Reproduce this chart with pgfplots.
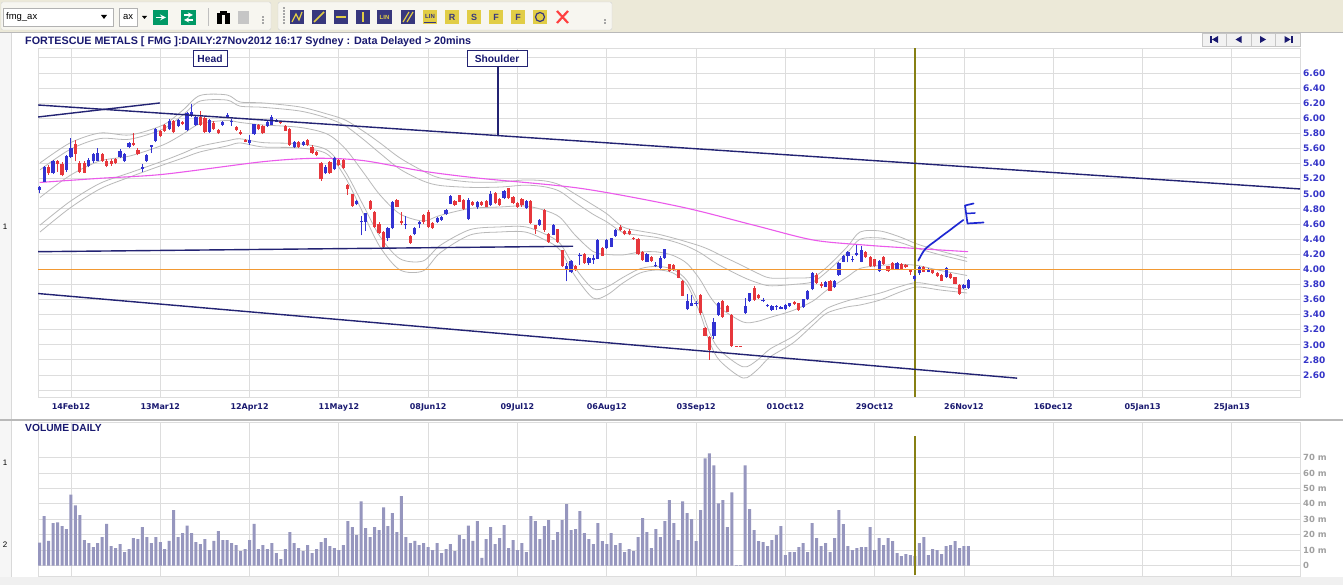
\documentclass[border=0pt]{standalone}
\usepackage{pgfplots}
\pgfplotsset{compat=1.18}
\usepackage{pgfplotstable}
\usepackage{fontspec}
\setmainfont{Liberation Sans}
\newfontfamily\dejav{DejaVu Sans}
\definecolor{tbbg}{RGB}{236,233,216}
\definecolor{tbhi}{RGB}{247,246,240}
\definecolor{navyt}{RGB}{25,25,112}
\definecolor{pblue}{RGB}{52,52,200}
\definecolor{cblue}{RGB}{50,50,210}
\definecolor{cred}{RGB}{230,55,60}
\definecolor{gridc}{RGB}{221,221,221}
\definecolor{bandc}{RGB}{185,185,185}
\definecolor{magc}{RGB}{235,90,235}
\definecolor{hlorange}{rgb}{0.95,0.6,0.2}
\definecolor{olc}{RGB}{135,128,20}
\definecolor{trend}{RGB}{35,35,115}
\definecolor{volc}{RGB}{150,150,190}
\definecolor{vlab}{RGB}{160,160,160}
\definecolor{hand}{RGB}{30,40,210}
\definecolor{iconnavy}{RGB}{55,55,125}
\definecolor{iconyel}{RGB}{225,205,70}

\pgfplotstableread{
i o h l c
0 5.05 5.105 5.015 5.085
1 5.16 5.37 5.15 5.35
3 5.27 5.45 5.26 5.435
6 5.315 5.52 5.29 5.505
7 5.49 5.735 5.47 5.60
11 5.37 5.48 5.35 5.45
12 5.43 5.54 5.41 5.525
13 5.44 5.60 5.43 5.545
18 5.49 5.59 5.47 5.57
19 5.43 5.54 5.42 5.525
20 5.615 5.69 5.60 5.677
23 5.33 5.395 5.285 5.35
24 5.44 5.53 5.42 5.515
25 5.62 5.65 5.54 5.64
26 5.70 5.87 5.68 5.855
29 5.854 5.99 5.84 5.969
31 5.898 5.99 5.88 5.978
33 5.84 6.08 5.83 6.066
34 6.03 6.19 6.02 6.088
35 5.916 6.03 5.90 6.013
38 5.823 5.99 5.81 5.978
41 5.911 5.97 5.90 5.955
42 6.013 6.07 6.00 6.04
43 5.947 5.99 5.90 5.967
47 5.669 5.78 5.65 5.713
48 5.788 5.93 5.78 5.92
51 5.903 5.96 5.89 5.947
52 5.916 6.04 5.91 6.013
53 5.956 5.99 5.95 5.978
57 5.615 5.70 5.60 5.69
59 5.647 5.70 5.63 5.69
64 5.271 5.38 5.26 5.36
66 5.324 5.49 5.31 5.479
71 4.86 4.92 4.85 4.905
72 4.62 4.70 4.45 4.64
73 4.63 4.75 4.51 4.74
78 4.42 4.56 4.38 4.55
79 4.543 4.91 4.53 4.896
82 4.58 4.70 4.53 4.60
84 4.463 4.56 4.45 4.542
85 4.60 4.645 4.55 4.625
89 4.622 4.69 4.61 4.675
90 4.653 4.71 4.64 4.697
91 4.728 4.80 4.72 4.785
92 4.865 4.98 4.86 4.971
96 4.662 4.94 4.65 4.918
98 4.83 4.90 4.80 4.89
101 4.852 5.04 4.84 5.00
104 4.94 5.05 4.93 5.04
109 4.808 4.92 4.80 4.909
112 4.587 4.67 4.57 4.653
115 4.46 4.60 4.45 4.587
118 4.01 4.08 3.84 4.05
119 3.96 4.12 3.95 4.11
121 4.17 4.21 4.06 4.19
123 4.079 4.16 4.06 4.145
124 4.123 4.19 4.07 4.154
125 4.136 4.40 4.13 4.388
127 4.278 4.40 4.27 4.388
128 4.30 4.42 4.29 4.41
129 4.445 4.54 4.43 4.52
136 4.101 4.21 4.09 4.198
138 4.04 4.09 4.03 4.06
139 4.022 4.17 4.01 4.154
140 4.154 4.27 4.14 4.264
145 3.47 3.67 3.46 3.58
146 3.52 3.66 3.51 3.55
147 3.54 3.58 3.51 3.56
151 3.12 3.35 3.08 3.306
152 3.395 3.57 3.38 3.55
158 3.417 3.615 3.41 3.52
159 3.58 3.69 3.57 3.68
162 3.575 3.615 3.565 3.595
163 3.51 3.54 3.50 3.53
164 3.46 3.53 3.45 3.52
165 3.50 3.53 3.46 3.52
166 3.48 3.51 3.47 3.50
167 3.47 3.54 3.46 3.527
168 3.514 3.56 3.50 3.55
171 3.497 3.61 3.49 3.602
172 3.602 3.72 3.59 3.713
173 3.735 3.96 3.72 3.946
176 3.77 3.85 3.76 3.836
178 3.76 3.86 3.75 3.85
179 3.925 4.09 3.91 4.079
180 4.101 4.19 4.09 4.176
181 4.176 4.24 4.09 4.233
182 4.12 4.17 4.09 4.14
183 4.19 4.32 4.17 4.21
184 4.101 4.31 4.09 4.256
188 3.978 4.12 3.97 4.11
192 4.004 4.10 3.99 4.088
196 3.867 3.93 3.85 3.916
197 3.947 4.05 3.93 4.035
199 3.968 4.02 3.96 4.01
203 3.902 4.03 3.89 4.022
207 3.748 3.80 3.74 3.792
208 3.748 3.87 3.74 3.858
}\upT

\pgfplotstableread{
i o h l c
2 5.36 5.38 5.25 5.27
4 5.435 5.45 5.29 5.395
5 5.40 5.42 5.23 5.245
8 5.66 5.71 5.43 5.53
9 5.41 5.44 5.27 5.29
10 5.41 5.43 5.27 5.28
14 5.525 5.54 5.42 5.44
15 5.44 5.46 5.35 5.37
16 5.44 5.46 5.37 5.395
17 5.465 5.48 5.39 5.41
21 5.677 5.81 5.63 5.647
22 5.58 5.60 5.51 5.527
27 5.83 5.85 5.75 5.765
28 5.91 5.93 5.82 5.836
30 5.969 5.98 5.80 5.814
32 5.956 5.97 5.91 5.925
36 6.022 6.10 5.90 5.912
37 6.004 6.02 5.81 5.823
39 5.942 5.96 5.84 5.854
40 5.845 5.86 5.79 5.80
44 5.889 5.90 5.83 5.845
45 5.823 5.84 5.78 5.792
46 5.713 5.73 5.68 5.69
49 5.911 5.93 5.84 5.854
50 5.898 5.91 5.79 5.80
54 5.955 5.96 5.92 5.934
55 5.903 5.91 5.83 5.836
56 5.858 5.87 5.63 5.647
58 5.69 5.70 5.61 5.624
60 5.713 5.72 5.63 5.647
61 5.624 5.64 5.53 5.545
62 5.558 5.57 5.50 5.514
63 5.41 5.42 5.17 5.19
65 5.426 5.44 5.26 5.271
67 5.448 5.46 5.37 5.382
68 5.448 5.46 5.33 5.338
69 5.11 5.13 4.99 5.06
70 4.993 5.00 4.83 4.843
74 4.90 4.92 4.79 4.80
75 4.763 4.77 4.55 4.565
76 4.60 4.62 4.47 4.485
77 4.498 4.51 4.27 4.291
80 4.918 4.93 4.82 4.83
81 4.64 4.76 4.59 4.61
83 4.44 4.45 4.34 4.35
86 4.72 4.73 4.60 4.63
87 4.763 4.78 4.55 4.565
88 4.618 4.63 4.54 4.551
93 4.905 4.92 4.84 4.852
94 4.98 4.99 4.89 4.896
95 4.918 4.93 4.78 4.794
97 4.887 4.90 4.84 4.852
99 4.887 4.90 4.84 4.852
100 4.91 4.92 4.82 4.83
102 5.015 5.02 4.86 4.874
103 4.927 4.94 4.84 4.852
105 5.07 5.08 4.93 4.94
106 4.953 4.97 4.86 4.874
107 4.883 4.89 4.81 4.82
108 4.927 4.94 4.83 4.852
110 4.909 4.92 4.60 4.609
111 4.58 4.59 4.47 4.54
113 4.785 4.80 4.50 4.52
114 4.467 4.48 4.35 4.366
116 4.534 4.54 4.35 4.366
117 4.256 4.26 4.03 4.044
120 4.05 4.06 3.98 3.99
122 4.198 4.21 4.07 4.079
126 4.278 4.29 4.17 4.18
130 4.565 4.59 4.51 4.52
131 4.512 4.52 4.45 4.463
132 4.512 4.53 4.45 4.463
133 4.42 4.43 4.39 4.40
134 4.40 4.41 4.19 4.198
135 4.233 4.24 4.11 4.123
137 4.163 4.17 4.10 4.11
141 4.066 4.07 3.97 3.978
142 4.057 4.07 3.98 3.99
143 4.004 4.01 3.88 3.89
144 3.85 3.86 3.64 3.651
148 3.66 3.67 3.40 3.417
149 3.218 3.23 3.11 3.12
150 3.108 3.12 2.80 2.93
153 3.58 3.59 3.36 3.373
154 3.52 3.53 3.43 3.44
155 3.395 3.41 2.97 2.99
156 2.99 2.99 2.98 2.98
157 2.99 2.99 2.98 2.98
160 3.757 3.78 3.58 3.594
161 3.66 3.67 3.61 3.616
169 3.57 3.58 3.53 3.54
170 3.55 3.56 3.45 3.46
174 3.92 3.955 3.81 3.823
175 3.80 3.835 3.75 3.78
177 3.845 3.86 3.71 3.717
185 4.225 4.24 4.15 4.158
186 4.167 4.18 4.03 4.044
187 4.132 4.14 4.03 4.044
189 4.167 4.18 4.06 4.07
190 4.044 4.05 3.97 3.978
191 4.088 4.10 3.99 4.004
193 4.07 4.08 3.99 4.00
194 4.057 4.07 4.02 4.026
195 3.99 4.00 3.925 3.97
198 4.026 4.04 3.96 3.968
200 3.99 4.00 3.94 3.946
201 3.955 3.965 3.90 3.911
202 3.925 3.935 3.84 3.85
204 3.937 3.95 3.87 3.88
205 3.893 3.90 3.80 3.805
206 3.792 3.80 3.66 3.673
}\downT

\pgfplotstableread{
i ou iu m il ol
0.07 5.408 5.317 4.951 4.585 4.494
6.79 5.673 5.587 5.243 4.898 4.812
13.50 5.805 5.731 5.435 5.138 5.064
20.22 5.779 5.723 5.501 5.279 5.223
27.62 5.911 5.858 5.647 5.435 5.382
32.10 6.110 6.046 5.792 5.538 5.474
35.90 6.302 6.227 5.928 5.629 5.554
41.94 6.309 6.241 5.971 5.701 5.633
44.85 6.216 6.161 5.945 5.728 5.673
50.01 6.203 6.145 5.912 5.678 5.620
58.30 6.150 6.096 5.879 5.661 5.607
64.35 6.057 6.004 5.792 5.580 5.527
68.38 5.978 5.902 5.601 5.299 5.223
72.41 5.832 5.724 5.289 4.854 4.746
76.22 5.673 5.536 4.984 4.433 4.295
80.69 5.474 5.326 4.733 4.139 3.991
85.85 5.302 5.170 4.640 4.110 3.978
89.65 5.209 5.110 4.713 4.315 4.216
96.37 5.156 5.085 4.805 4.525 4.454
103.09 5.156 5.089 4.825 4.561 4.494
108.69 5.183 5.114 4.839 4.563 4.494
113.17 5.170 5.092 4.779 4.466 4.388
116.53 5.117 5.031 4.687 4.342 4.256
119.89 4.997 4.888 4.454 4.020 3.911
123.92 4.852 4.729 4.236 3.743 3.620
127.06 4.733 4.626 4.197 3.767 3.660
130.64 4.560 4.486 4.190 3.893 3.819
134.45 4.507 4.451 4.229 4.007 3.951
138.26 4.468 4.420 4.230 4.039 3.991
141.84 4.415 4.369 4.183 3.998 3.951
144.97 4.362 4.305 4.077 3.849 3.792
147.88 4.309 4.220 3.865 3.510 3.421
150.12 4.256 4.132 3.640 3.148 3.024
152.36 4.190 4.050 3.488 2.926 2.786
157.51 4.044 3.896 3.302 2.708 2.560
160.65 3.951 3.823 3.309 2.794 2.666
163.56 3.885 3.781 3.362 2.944 2.839
168.71 3.885 3.799 3.455 3.111 3.024
173.19 3.898 3.834 3.580 3.326 3.262
176.33 4.031 3.970 3.726 3.482 3.421
180.81 4.295 4.216 3.898 3.581 3.501
183.72 4.494 4.398 4.011 3.623 3.527
188.20 4.507 4.415 4.050 3.685 3.593
192.68 4.428 4.355 4.064 3.772 3.699
196.48 4.335 4.279 4.051 3.823 3.766
201.64 4.243 4.192 3.985 3.777 3.726
207.69 4.150 4.104 3.918 3.732 3.686
}\bandT

\pgfplotstableread{
i v
0 15
1 32
2 16
3 27.5
4 28
5 25.6
6 23.7
7 46
8 39
9 32.7
10 16.5
11 14.6
12 12
13 14.6
14 18.5
15 27
16 12.7
17 11.4
18 14
19 8.8
20 10.8
21 17.8
22 17.2
23 25
24 18.5
25 14.6
26 18.5
27 15.3
28 10.8
29 16
30 36
31 18.5
32 21
33 26
34 21
35 15.3
36 14
37 17.2
38 10
39 16
40 22.4
41 16.5
42 16.5
43 14.6
44 13.3
45 9.5
46 10.8
47 16.5
48 27
49 10.8
50 13.3
51 10.8
52 14.6
53 8.2
54 4.3
55 10.8
56 21.7
57 14.6
58 11.4
59 9.5
60 13.3
61 8.2
62 10.8
63 15.3
64 17.8
65 12.7
66 11.4
67 10
68 13.3
69 28.8
70 25
71 19.8
72 41.7
73 24.3
74 18.5
75 25
76 23
77 37.8
78 25.6
79 34
80 21.7
81 45
82 18.5
83 14.6
84 16
85 13.3
86 14.6
87 12
88 10
89 14.6
90 8.2
91 10.8
92 14
93 9.5
94 19.8
95 17.2
96 26
97 16
98 28.8
99 5
100 17.2
101 25
102 14
103 17.8
104 26.2
105 11.4
106 16.6
107 10.1
108 14.6
109 8.8
110 32
111 28.8
112 17.2
113 25.6
114 29.5
115 16.6
116 21.7
117 29.5
118 39.8
119 23
120 23.7
121 35.3
122 21
123 17.2
124 14
125 27.5
126 15.9
127 14
128 21
129 13.3
130 14.6
131 8.8
132 10.8
133 9.5
134 18.5
135 30.8
136 21.7
137 11.4
138 23.7
139 18.5
140 28.8
141 42.4
142 27.5
143 16.6
144 41.7
145 34
146 30.1
147 15.9
148 35.9
149 69.5
150 72.7
151 65
152 40.4
153 42.4
154 24.9
155 47.5
156 0.4
157 0.4
158 65
159 36.6
160 23
161 15.9
162 15.3
163 12.7
164 16.6
165 19.8
166 25.6
167 6.9
168 8.8
169 8.8
170 12
171 14.6
172 8.8
173 27.5
174 17.8
175 12.7
176 14.6
177 8.8
178 17.8
179 35.9
180 26.9
181 12.7
182 10.1
183 11.4
184 12
185 12
186 24.9
187 10.1
188 17.8
189 13.3
190 17.8
191 15.9
192 8.2
193 6.2
194 7.5
195 6.9
196 6.2
197 14.6
198 18.5
199 6.9
200 10.8
201 10.1
202 7.5
203 12.7
204 13.3
205 15.9
206 11.4
207 12.7
208 12.7
}\volT

\begin{document}
\begin{tikzpicture}[x=1bp,y=1bp]
\fill[white] (0,0) rectangle (1343,585);
\useasboundingbox (0,0) rectangle (1343,585);

% ---------- toolbar ----------
\fill[tbbg] (0,552) rectangle (1343,585);
\draw[gray!55] (0,552.5) -- (1343,552.5);
\draw[fill=tbhi, draw=gray!35, rounded corners=2bp] (1,555) rectangle (271,583);
\draw[fill=tbhi, draw=gray!35, rounded corners=2bp] (278,555) rectangle (612,583);
\draw[fill=white, draw=gray!60] (3,559) rectangle (113,577);
\node[anchor=west, inner sep=0, font=\fontsize{9.5}{10}\selectfont] at (6,568) {fmg\_ax};
\fill (101,570) -- (107,570) -- (104,566) -- cycle;
\draw[fill=white, draw=gray!60] (119,559) rectangle (137,577);
\node[inner sep=0, font=\fontsize{9.5}{10}\selectfont] at (128,568) {ax};
\fill (142,569) -- (147,569) -- (144.5,566) -- cycle;
\fill[teal!80!green] (153,560) rectangle (168,575);
\draw[white, line width=1.6bp, -stealth] (155.5,567.5) -- (166,567.5);
\fill[teal!80!green] (181,560) rectangle (196,575);
\draw[white, line width=1.3bp, -stealth] (184,570) -- (193,570);
\draw[white, line width=1.3bp, -stealth] (193,565) -- (184,565);
\draw[gray!50] (208,559) -- (208,577);
\fill[black] (217,561) rectangle (222,572);
\fill[black] (225,561) rectangle (230,572);
\fill[black] (220,570) rectangle (227,574);
\fill[gray!45] (238,561) rectangle (249,574);
\foreach \yy in {561,564,567} {\fill[gray!70] (262,\yy) rectangle (264,\yy+1.5);}
\foreach \yy in {561,564,567,570,573,576} {\fill[gray!70] (283,\yy) rectangle (284.5,\yy+1.5);}
% icons
\fill[iconnavy] (290,561) rectangle (304,575);
\draw[iconyel, line width=1.2bp] (292,563) -- (296,571) -- (299,565) -- (302,573);
\fill[iconnavy] (312,561) rectangle (326,575);
\draw[iconyel, line width=1.5bp] (314,563) -- (324,573);
\fill[iconnavy] (334,561) rectangle (348,575);
\draw[iconyel, line width=2bp] (336,568) -- (346,568);
\fill[iconnavy] (356,561) rectangle (370,575);
\draw[iconyel, line width=2bp] (363,563) -- (363,573);
\fill[iconnavy] (377,561) rectangle (392,575);
\node[inner sep=0, text=iconyel, font=\bfseries\fontsize{6}{6}\selectfont] at (384.5,568) {LIN};
\fill[iconnavy] (401,561) rectangle (415,575);
\draw[iconyel, line width=1.2bp] (403,563) -- (409,573) (407,563) -- (413,573);
\fill[iconyel] (423,561) rectangle (437,575);
\node[inner sep=0, text=iconnavy, font=\bfseries\fontsize{6}{6}\selectfont] at (430,568.5) {LIN};
\draw[iconnavy] (424,563) -- (436,563);
\fill[iconyel] (445,561) rectangle (459,575);
\node[inner sep=0, text=iconnavy, font=\bfseries\fontsize{9}{9}\selectfont] at (452,568) {R};
\fill[iconyel] (467,561) rectangle (481,575);
\node[inner sep=0, text=iconnavy, font=\bfseries\fontsize{9}{9}\selectfont] at (474,568) {S};
\fill[iconyel] (489,561) rectangle (503,575);
\node[inner sep=0, text=iconnavy, font=\bfseries\fontsize{9}{9}\selectfont] at (496,568) {F};
\fill[iconyel] (511,561) rectangle (525,575);
\node[inner sep=0, text=iconnavy, font=\bfseries\fontsize{9}{9}\selectfont] at (518,568) {F};
\fill[iconyel] (533,561) rectangle (547,575);
\draw[iconnavy, line width=1.2bp] (540,568) circle (4.5bp);
\draw[red!75, line width=2.2bp] (557,562) -- (568,574) (557,574) -- (568,562);
\foreach \yy in {561,564} {\fill[gray!70] (604,\yy) rectangle (606,\yy+1.5);}

% ---------- price panel ----------
\begin{axis}[
  at={(38bp,188bp)}, anchor=south west, scale only axis,
  width=1262bp, height=349bp,
  xmin=-0.381, xmax=282.26, ymin=2.3086, ymax=6.931,
  xtick={7,27,47,67,87,107,127,147,167,187,207,227,247,267},
  xticklabels={14Feb12,13Mar12,12Apr12,11May12,08Jun12,09Jul12,06Aug12,03Sep12,01Oct12,29Oct12,26Nov12,16Dec12,05Jan13,25Jan13},
  ytick={2.4,2.6,2.8,3.0,3.2,3.4,3.6,3.8,4.0,4.2,4.4,4.6,4.8,5.0,5.2,5.4,5.6,5.8,6.0,6.2,6.4,6.6,6.8},
  yticklabels={,2.60,2.80,3.00,3.20,3.40,3.60,3.80,4.00,4.20,4.40,4.60,4.80,5.00,5.20,5.40,5.60,5.80,6.00,6.20,6.40,6.60,},
  yticklabel pos=right,
  grid=major, grid style={gridc, line width=0.9bp},
  axis line style={gridc, line width=0.9bp},
  major tick length=0pt,
  xticklabel style={font=\dejav\bfseries\fontsize{8}{9}\selectfont, text=navyt, yshift=-3bp},
  yticklabel style={font=\dejav\bfseries\fontsize{9}{10}\selectfont, text=pblue, anchor=west, xshift=2bp, inner sep=1bp},
]
\addplot[bandc, line width=0.8bp, smooth] table[x=i, y=ou] {\bandT};
\addplot[bandc, line width=0.8bp, smooth] table[x=i, y=iu] {\bandT};
\addplot[bandc, line width=0.8bp, smooth] table[x=i, y=m] {\bandT};
\addplot[bandc, line width=0.8bp, smooth] table[x=i, y=il] {\bandT};
\addplot[bandc, line width=0.8bp, smooth] table[x=i, y=ol] {\bandT};
\addplot[magc, line width=1.1bp, smooth] coordinates {(0,5.15) (13.5,5.205) (27.7,5.258) (50,5.425) (62,5.47) (72.4,5.44) (85.8,5.30) (98.6,5.205) (121,5.073) (143.4,4.829) (160,4.583) (173.2,4.388) (185,4.32) (195.6,4.278) (207.9,4.233)};
\addplot[color=olc, line width=1.2bp] coordinates {(196.04,2.3086) (196.04,6.931)};
% wicks
\addplot[draw=none, mark=none, forget plot, error bars/.cd, y dir=plus, y explicit, error mark=none,
  error bar style={line width=1bp, draw=cblue, solid}] table[x=i, y=l, y error plus expr=\thisrow{h}-\thisrow{l}] {\upT};
\addplot[draw=none, mark=none, forget plot, error bars/.cd, y dir=plus, y explicit, error mark=none,
  error bar style={line width=1bp, draw=cred, solid}] table[x=i, y=l, y error plus expr=\thisrow{h}-\thisrow{l}] {\downT};
% bodies
\addplot[draw=none, mark=none, forget plot, error bars/.cd, y dir=plus, y explicit, error mark=none,
  error bar style={line width=3.2bp, draw=cblue, solid}] table[x=i, y=o, y error plus expr=\thisrow{c}-\thisrow{o}] {\upT};
\addplot[draw=none, mark=none, forget plot, error bars/.cd, y dir=plus, y explicit, error mark=none,
  error bar style={line width=3.2bp, draw=cred, solid}] table[x=i, y=c, y error plus expr=\thisrow{o}-\thisrow{c}] {\downT};
% trend lines
\addplot[color=trend, line width=1.4bp] coordinates {(-0.38,6.176) (282.26,5.064)};
\addplot[color=trend, line width=1.4bp] coordinates {(-0.38,6.017) (26.94,6.203)};
\addplot[color=trend, line width=1.4bp] coordinates {(-0.38,4.233) (119.44,4.305)};
\addplot[color=trend, line width=1.4bp] coordinates {(-0.38,3.679) (218.9,2.558)};
\addplot[color=trend, line width=1.2bp] coordinates {(102.64,6.679) (102.64,5.779)};
\coordinate (lvlA) at (axis cs:-0.381,4.0);
\coordinate (lvlB) at (axis cs:282.26,4.0);
\end{axis}
% 4.00 reference level, anchored to the axis coordinates above
\fill[hlorange] ([yshift=-0.75bp]lvlA) rectangle ([yshift=0.75bp]lvlB);

% ---------- volume panel ----------
\begin{axis}[
  at={(38bp,9bp)}, anchor=south west, scale only axis,
  width=1262bp, height=154bp,
  xmin=-0.381, xmax=282.26, ymin=-6.67, ymax=93,
  xtick={7,27,47,67,87,107,127,147,167,187,207,227,247,267},
  xticklabels={},
  ytick={0,10,20,30,40,50,60,70},
  yticklabels={0,10 m,20 m,30 m,40 m,50 m,60 m,70 m},
  yticklabel pos=right,
  grid=major, grid style={gridc, line width=0.9bp},
  axis line style={gridc, line width=0.9bp},
  major tick length=0pt,
  yticklabel style={font=\dejav\bfseries\fontsize{8.5}{10}\selectfont, text=vlab, anchor=west, xshift=2bp, inner sep=1bp},
]
\addplot[ybar, bar width=3bp, fill=volc, draw=none] table[x=i, y=v] {\volT};
\addplot[color=olc, line width=1.2bp] coordinates {(196.04,-6.3) (196.04,84)};
\end{axis}

% ---------- overlays ----------
\fill[gray!7] (0,0) rectangle (11,552);
\draw[gray!30] (11,0) -- (11,552);
\fill[gray!12] (0,0) rectangle (1343,8);
\draw[gray!55, line width=1.6bp] (0,165) -- (1343,165);
\node[anchor=west, inner sep=0, font=\bfseries\fontsize{10.8}{12}\selectfont, text=navyt] at (25,543) {FORTESCUE METALS [ FMG ]:DAILY:27Nov2012 16:17 Sydney : Data Delayed > 20mins};
\node[anchor=west, inner sep=0, font=\bfseries\fontsize{10.3}{12}\selectfont, text=navyt] at (25,157) {VOLUME DAILY};
\node[draw=trend, fill=white, line width=1bp, font=\bfseries\fontsize{10.3}{12}\selectfont, text=navyt, minimum width=34bp, minimum height=16bp, inner sep=1bp] at (210,526) {Head};
\node[draw=trend, fill=white, line width=1bp, font=\bfseries\fontsize{10.3}{12}\selectfont, text=navyt, minimum width=60bp, minimum height=16bp, inner sep=1bp] at (497,526) {Shoulder};
\node[inner sep=0, font=\fontsize{8}{9}\selectfont] at (5,358.5) {1};
\node[inner sep=0, font=\fontsize{8}{9}\selectfont] at (5,122) {1};
\node[inner sep=0, font=\fontsize{8}{9}\selectfont] at (5,40) {2};
% navigation buttons
\foreach \k in {0,1,2,3} {\draw[fill=gray!10, draw=gray!45] ({1202+24.5*\k},539) rectangle ({1202+24.5*(\k+1)},552);}
\fill[navyt] (1210,542) rectangle (1211.5,549);
\fill[navyt] (1212,545.5) -- (1218,549) -- (1218,542) -- cycle;
\fill[navyt] (1235.5,545.5) -- (1241.5,549) -- (1241.5,542) -- cycle;
\fill[navyt] (1266,545.5) -- (1260,549) -- (1260,542) -- cycle;
\fill[navyt] (1290.5,545.5) -- (1284.5,549) -- (1284.5,542) -- cycle;
\fill[navyt] (1291,542) rectangle (1292.5,549);
% hand-drawn arrow and E
\draw[hand, line width=1.7bp, line cap=round] plot[smooth] coordinates {(918.3,324.3) (925,335.7) (936.7,345) (950,355) (963.3,365)};
\draw[hand, line width=1.7bp, line cap=round, line join=round] (973.5,381.5) -- (965,379.5) -- (967.5,361.5) -- (983.5,362.5);
\draw[hand, line width=1.5bp, line cap=round] (967,371.5) -- (975,372);
\end{tikzpicture}
\end{document}
